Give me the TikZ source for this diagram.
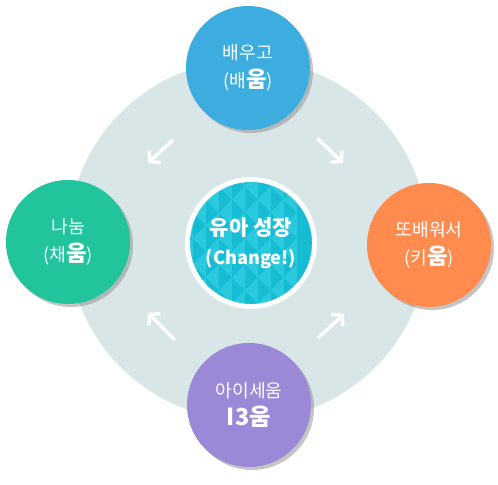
\documentclass[tikz,border=0pt]{standalone}
\usepackage{fontspec}
\setmainfont{Noto Sans CJK KR}
\usetikzlibrary{arrows.meta,shadows}
\definecolor{ringbg}{HTML}{D9E6E8}
\definecolor{learnblue}{HTML}{3DADDF}
\definecolor{sharegreen}{HTML}{22C49C}
\definecolor{raiseorange}{HTML}{FF8B4E}
\definecolor{aisepurple}{HTML}{9B88D6}
\definecolor{growteal}{HTML}{15BCD4}
\definecolor{growlight}{HTML}{2BC9DD}

\begin{document}
\begin{tikzpicture}[x=0.03cm, y=0.03cm,
    stage/.style={circle, minimum size=3.72cm, inner sep=0pt, text=white, align=center,
      font=\fontsize{15.5}{24}\selectfont,
      drop shadow={shadow xshift=0.09cm, shadow yshift=-0.09cm, fill=black!45, opacity=0.5}},
    flow/.style={white, line width=3pt, -{Straight Barb[length=6pt, width=14pt]}}]
    \useasboundingbox (0,0) rectangle (498,485);

    % Light ring behind everything
    \fill[ringbg] (248,245) circle (180);

    % Four stages around the ring
    \node[stage, fill=learnblue] (learn) at (248,417) {배우고\\(배{\fontsize{19}{24}\selectfont\bfseries 움})};
    \node[stage, fill=sharegreen] (share) at (68,243) {나눔\\(채{\fontsize{19}{24}\selectfont\bfseries 움})};
    \node[stage, fill=raiseorange] (raise) at (429,240) {또배워서\\(키{\fontsize{19}{24}\selectfont\bfseries 움})};
    \node[stage, fill=aisepurple] (aise) at (249,80) {아이세움\\{\fontsize{20}{24}\selectfont\bfseries I3움}};

    % Centre with triangle pattern
    \node[circle, minimum size=3.81cm, inner sep=0pt, fill=growteal, draw=white, line width=4.2pt,
      text=white, align=center, font=\bfseries\fontsize{15.5}{25}\selectfont,
      path picture={
        \begin{scope}[shift={(path picture bounding box.center)}]
          \foreach \i in {-3,...,3}
            \foreach \j in {-3,...,3} {
              \fill[growlight] (26*\i-13,26*\j) -- (26*\i,26*\j+13) -- (26*\i,26*\j-13) -- cycle;
              \fill[growlight] (26*\i,26*\j+13) -- (26*\i+13,26*\j+26) -- (26*\i+13,26*\j) -- cycle;
            }
        \end{scope}
      }] (grow) at (251,242) {{\fontsize{18}{25}\selectfont 유아 성장}\\(Change!)};

    % Arrows between the stages
    \coordinate (tl-a) at (173,345);
    \coordinate (tl-b) at (148,322);
    \coordinate (tr-a) at (317,347);
    \coordinate (tr-b) at (343,322);
    \coordinate (bl-a) at (175,145);
    \coordinate (bl-b) at (148,172);
    \coordinate (br-a) at (318,147);
    \coordinate (br-b) at (344,171);
    \draw[flow] (tl-a) -- (tl-b);
    \draw[flow] (tr-a) -- (tr-b);
    \draw[flow] (bl-a) -- (bl-b);
    \draw[flow] (br-a) -- (br-b);
\end{tikzpicture}
\end{document}
